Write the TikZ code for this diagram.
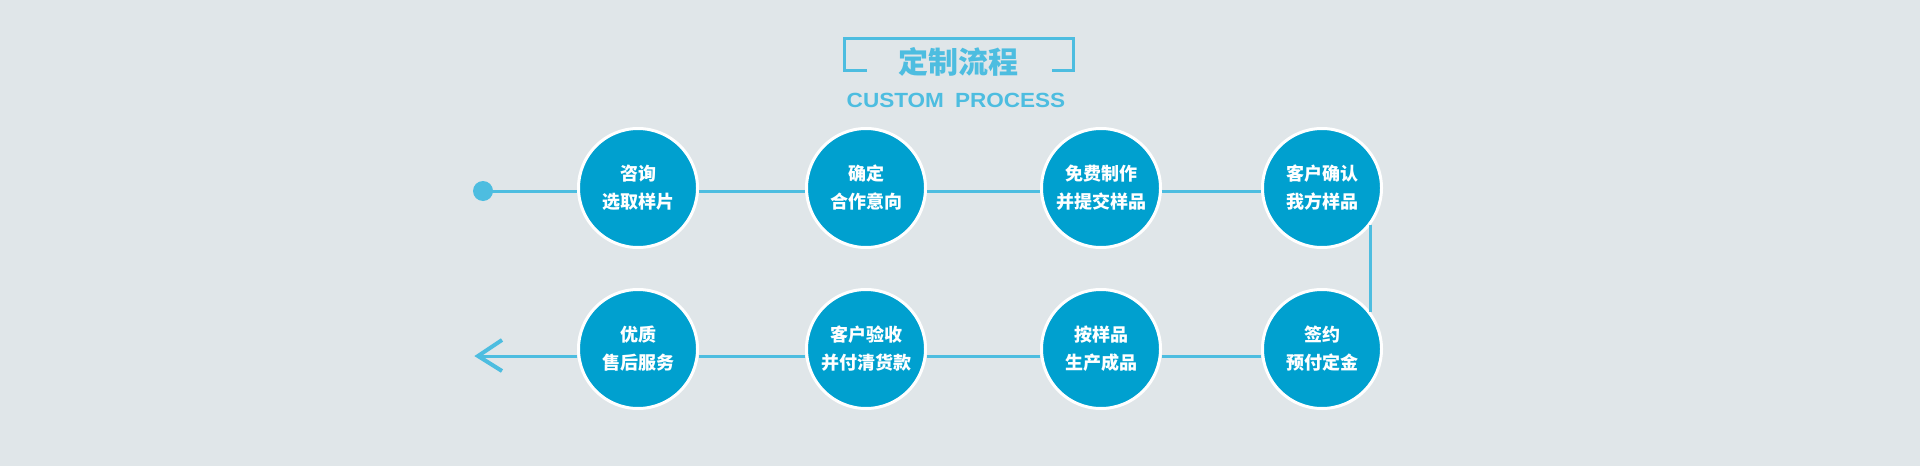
\documentclass[tikz,border=0pt]{standalone}
\usepackage{fontspec}
\setmainfont{Liberation Sans}
\newfontfamily\cjk{Noto Sans CJK SC}
\definecolor{bgc}{HTML}{E0E6E9}
\definecolor{fillc}{HTML}{00A0CF}
\definecolor{linec}{HTML}{4DBDE0}
\tikzset{
  stepcircle/.style={circle, fill=fillc, draw=white, line width=3pt, minimum size=119pt, inner sep=0pt,
    text=white, align=center, font=\cjk\bfseries\fontsize{18pt}{28pt}\selectfont},
  conn/.style={draw=linec, line width=3pt},
}
\begin{document}
\begin{tikzpicture}[x=1pt,y=-1pt]
\fill[bgc] (0,0) rectangle (1920,466);
\useasboundingbox (0,0) rectangle (1920,466);
% title
\draw[linec, line width=3pt] (867,70) -- (844,70) -- (844,38) -- (1073,38) -- (1073,70) -- (1052,70);
\node[text=linec, font=\cjk\bfseries\fontsize{30pt}{30pt}\selectfont, inner sep=0pt] (title) at (958,62) {定制流程};
\node[text=linec, font=\bfseries\fontsize{20.5pt}{21pt}\selectfont, inner sep=0pt, anchor=base] (sub) at (956,107) {\scalebox{1.1}[1]{CUSTOM\hspace{10pt}PROCESS}};
% circles
\node[stepcircle] (c1) at (638,188) {咨询\\选取样片};
\node[stepcircle] (c2) at (866,188) {确定\\合作意向};
\node[stepcircle] (c3) at (1101,188) {免费制作\\并提交样品};
\node[stepcircle] (c4) at (1322,188) {客户确认\\我方样品};
\node[stepcircle] (c5) at (638,349) {优质\\售后服务};
\node[stepcircle] (c6) at (866,349) {客户验收\\并付清货款};
\node[stepcircle] (c7) at (1101,349) {按样品\\生产成品};
\node[stepcircle] (c8) at (1322,349) {签约\\预付定金};
% start dot
\node[circle, fill=linec, minimum size=20pt, inner sep=0pt] (dot) at (483,191) {};
\coordinate (tip) at (478,356);
% connectors
\draw[conn] (dot.center) -- (dot.center -| c1.west);
\draw[conn] (c1.-3) -- (c1.-3 -| c2.west);
\draw[conn] (c2.-3) -- (c2.-3 -| c3.west);
\draw[conn] (c3.-3) -- (c3.-3 -| c4.west);
\draw[conn] (c4.-37) -- (c4.-37 |- c8.37);
\draw[conn] (c8.187) -- (c8.187 -| c7.east);
\draw[conn] (c7.187) -- (c7.187 -| c6.east);
\draw[conn] (c6.187) -- (c6.187 -| c5.east);
\draw[conn] (c5.187) -- (c5.187 -| tip);
\draw[linec, line width=4pt] (502,340) -- (tip) -- (502,371);
\end{tikzpicture}
\end{document}
